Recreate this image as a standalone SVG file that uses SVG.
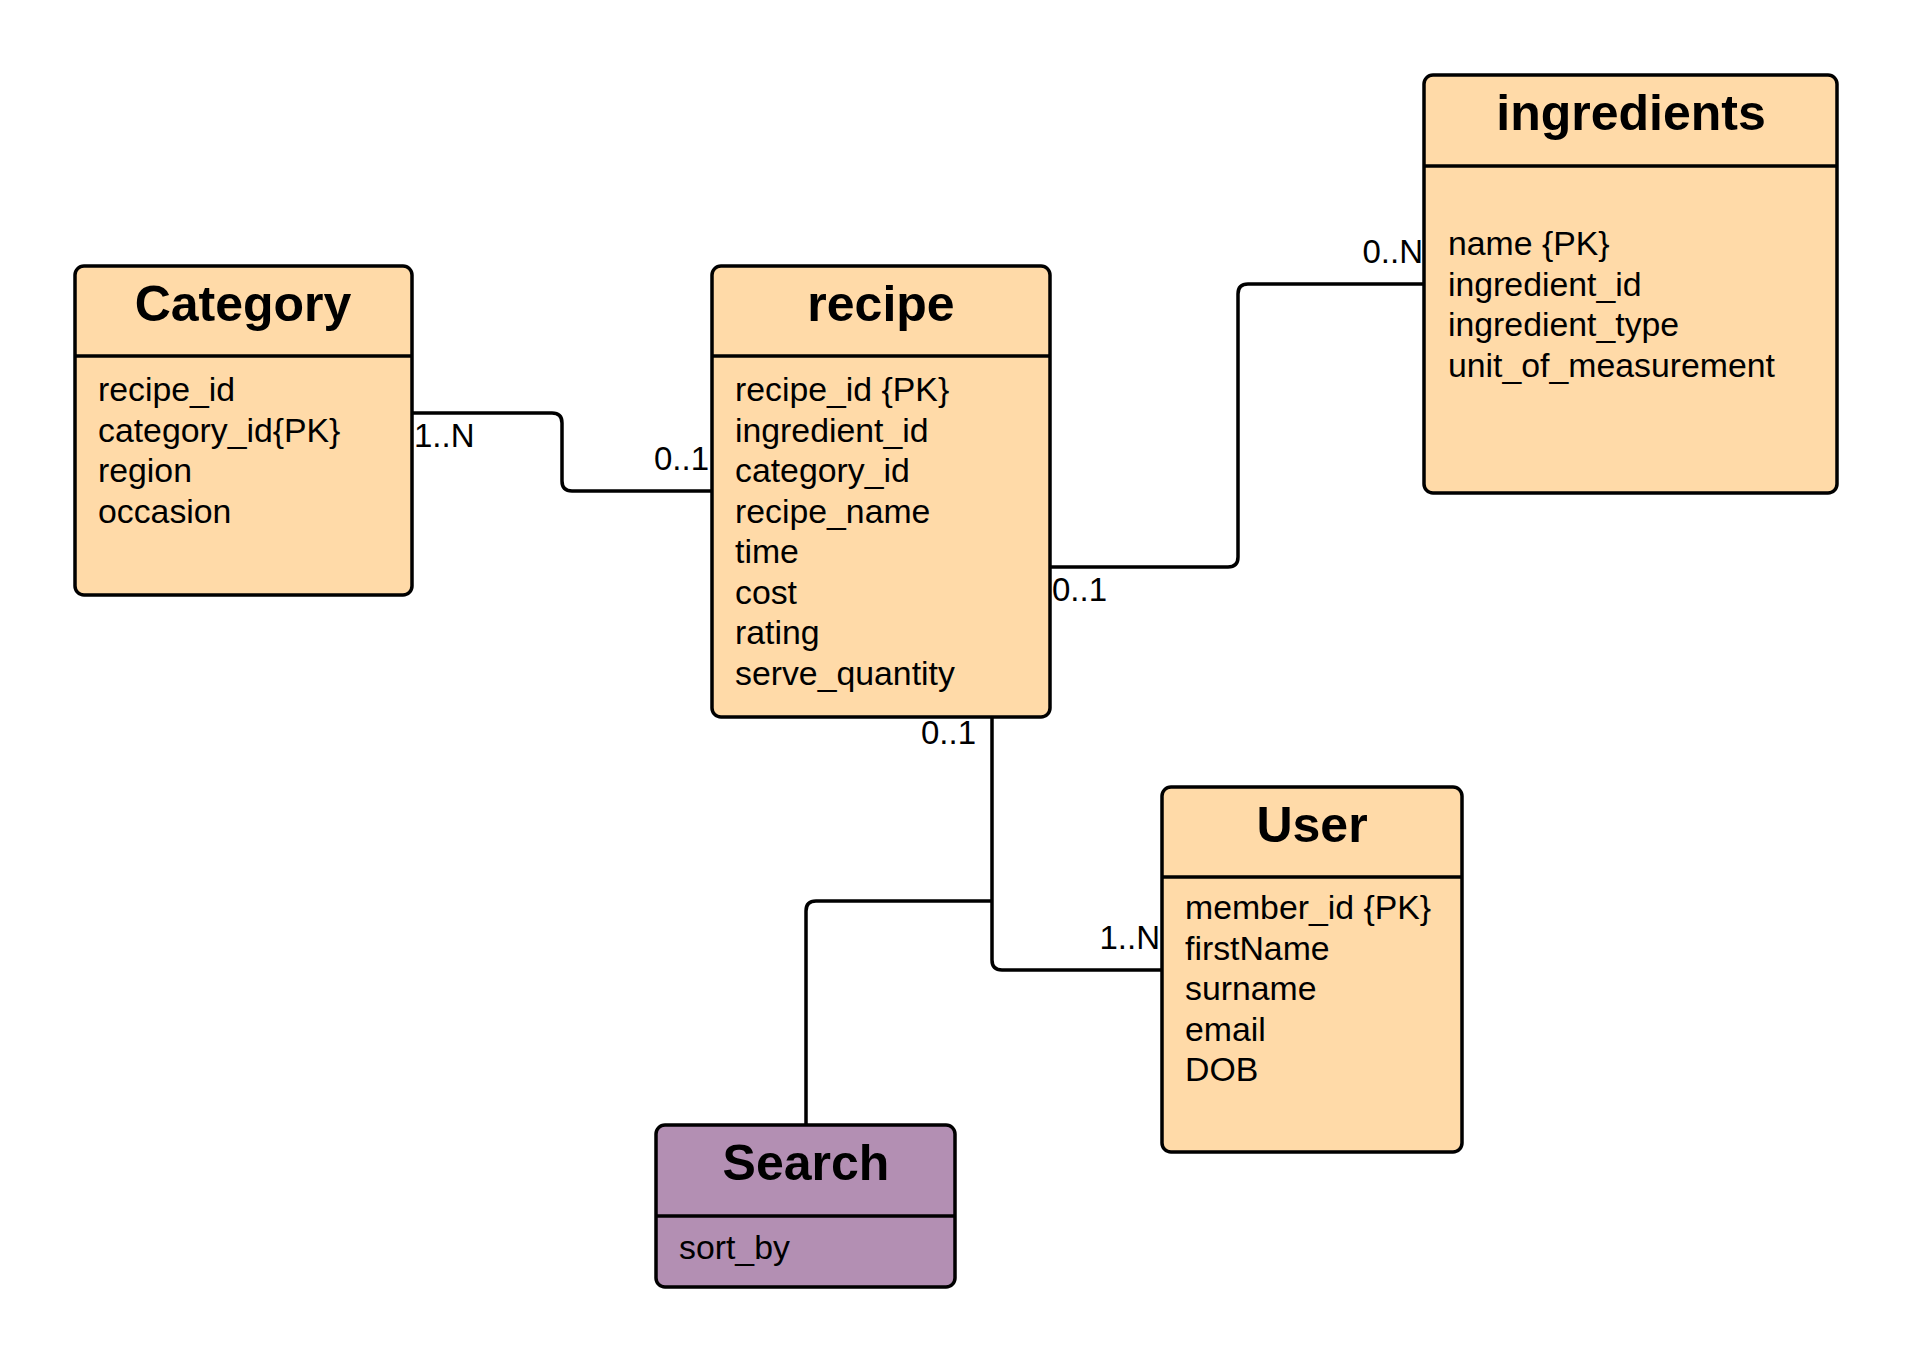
<svg xmlns="http://www.w3.org/2000/svg" width="1913" height="1361" viewBox="0 0 1913 1361">
<style>
.box{fill:#FFDAA8;stroke:#000;stroke-width:3.5}
.search{fill:#B38FB3;stroke:#000;stroke-width:3.5}
.sep{stroke:#000;stroke-width:3.5}
.title{font-family:"Liberation Sans",Arial,sans-serif;font-weight:bold;font-size:50px;text-anchor:middle;fill:#000}
.attr{font-family:"Liberation Sans",Arial,sans-serif;font-size:33.8px;fill:#000}
.lbl{font-family:"Liberation Sans",Arial,sans-serif;font-size:33px;fill:#000}
.conn{fill:none;stroke:#000;stroke-width:3.5;stroke-linejoin:round}
</style>
<rect width="1913" height="1361" fill="#fff"/>
<g id="connectors">
<path class="conn" d="M412 413 H552 Q562 413 562 423 V481 Q562 491 572 491 H711"/>
<path class="conn" d="M1050 567 H1228 Q1238 567 1238 557 V294 Q1238 284 1248 284 H1424"/>
<path class="conn" d="M992 717 V960 Q992 970 1002 970 H1161"/>
<path class="conn" d="M992 901 H816 Q806 901 806 911 V1125"/>
<text class="lbl" x="414" y="447">1..N</text>
<text class="lbl" x="709" y="470" text-anchor="end">0..1</text>
<text class="lbl" x="1052" y="601">0..1</text>
<text class="lbl" x="1423" y="263" text-anchor="end">0..N</text>
<text class="lbl" x="976" y="744" text-anchor="end">0..1</text>
<text class="lbl" x="1160" y="949" text-anchor="end">1..N</text>
</g>
<g id="category">
<rect class="box" x="75" y="266" width="337" height="329" rx="9"/>
<line class="sep" x1="75" y1="356" x2="412" y2="356"/>
<text class="title" x="243" y="321">Category</text>
<text class="attr" x="98" y="401">recipe_id</text>
<text class="attr" x="98" y="441.5">category_id{PK}</text>
<text class="attr" x="98" y="482">region</text>
<text class="attr" x="98" y="522.5">occasion</text>
</g>
<g id="recipe">
<rect class="box" x="712" y="266" width="338" height="451" rx="9"/>
<line class="sep" x1="712" y1="356" x2="1050" y2="356"/>
<text class="title" x="881" y="321">recipe</text>
<text class="attr" x="735" y="401">recipe_id {PK}</text>
<text class="attr" x="735" y="441.5">ingredient_id</text>
<text class="attr" x="735" y="482">category_id</text>
<text class="attr" x="735" y="522.5">recipe_name</text>
<text class="attr" x="735" y="563">time</text>
<text class="attr" x="735" y="603.5">cost</text>
<text class="attr" x="735" y="644">rating</text>
<text class="attr" x="735" y="684.5">serve_quantity</text>
</g>
<g id="ingredients">
<rect class="box" x="1424" y="75" width="413" height="418" rx="9"/>
<line class="sep" x1="1424" y1="166" x2="1837" y2="166"/>
<text class="title" x="1631" y="130">ingredients</text>
<text class="attr" x="1448" y="255">name {PK}</text>
<text class="attr" x="1448" y="295.5">ingredient_id</text>
<text class="attr" x="1448" y="336">ingredient_type</text>
<text class="attr" x="1448" y="376.5">unit_of_measurement</text>
</g>
<g id="user">
<rect class="box" x="1162" y="787" width="300" height="365" rx="9"/>
<line class="sep" x1="1162" y1="877" x2="1462" y2="877"/>
<text class="title" x="1312" y="842">User</text>
<text class="attr" x="1185" y="919">member_id {PK}</text>
<text class="attr" x="1185" y="959.5">firstName</text>
<text class="attr" x="1185" y="1000">surname</text>
<text class="attr" x="1185" y="1040.5">email</text>
<text class="attr" x="1185" y="1081">DOB</text>
</g>
<g id="search">
<rect class="search" x="656" y="1125" width="299" height="162" rx="9"/>
<line class="sep" x1="656" y1="1216" x2="955" y2="1216"/>
<text class="title" x="806" y="1180">Search</text>
<text class="attr" x="679" y="1259">sort_by</text>
</g>
</svg>
